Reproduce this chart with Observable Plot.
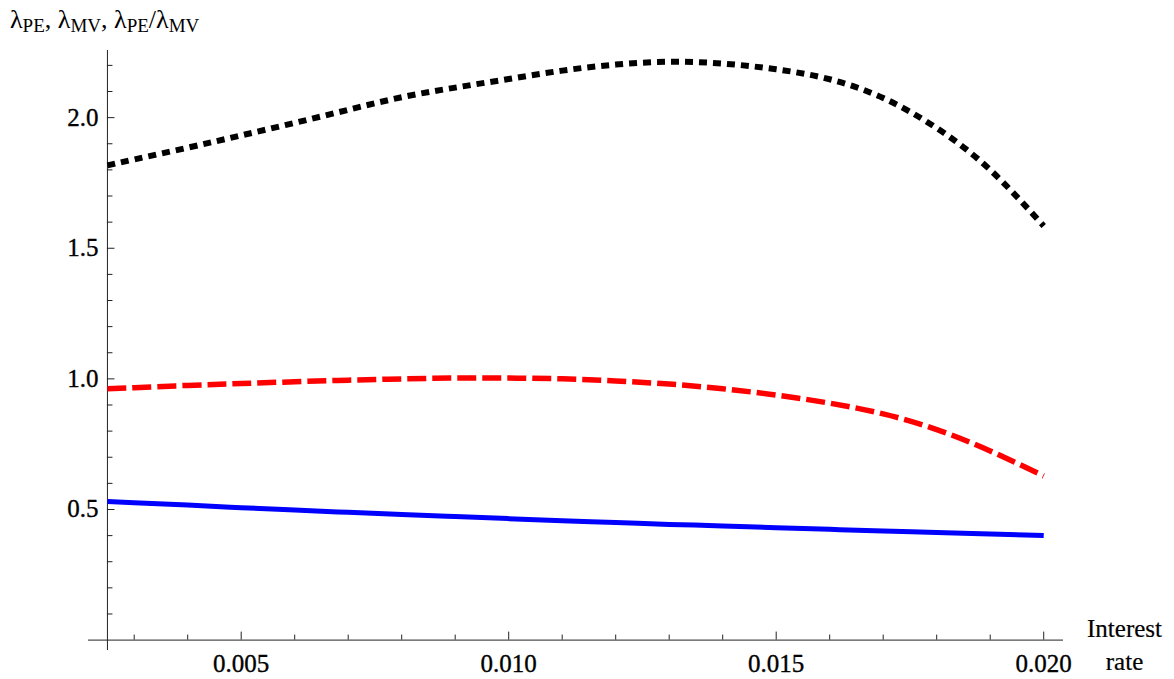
<!DOCTYPE html>
<html>
<head>
<meta charset="utf-8">
<script src="https://cdn.jsdelivr.net/npm/d3@7"></script>
<script src="https://cdn.jsdelivr.net/npm/@observablehq/plot@0.6"></script>
<style>
  html, body { margin: 0; padding: 0; background: #fff; }
  #chart svg { display: block; }
</style>
</head>
<body>
<div id="chart"></div>
<script>
// Data
const rates = [0.0025, 0.003, 0.004, 0.005, 0.006, 0.007, 0.008, 0.009, 0.010, 0.011,
               0.012, 0.013, 0.014, 0.015, 0.016, 0.017, 0.018, 0.019, 0.020];
const lambdaPE = [0.962, 0.966, 0.975, 0.982, 0.989, 0.995, 1.000, 1.003, 1.003, 1.000,
                  0.992, 0.980, 0.962, 0.938, 0.907, 0.866, 0.806, 0.724, 0.628];
const lambdaMV = [0.531, 0.526, 0.517, 0.507, 0.498, 0.489, 0.481, 0.473, 0.465, 0.457,
                  0.450, 0.443, 0.437, 0.430, 0.424, 0.418, 0.412, 0.406, 0.400];
const ratio    = [1.817, 1.840, 1.885, 1.932, 1.980, 2.030, 2.078, 2.115, 2.148, 2.180,
                  2.203, 2.214, 2.207, 2.185, 2.147, 2.075, 1.960, 1.800, 1.585];

const xMajorTicks = [0.005, 0.010, 0.015, 0.020];
const xMinorTicks = [0.003, 0.004, 0.006, 0.007, 0.008, 0.009, 0.011, 0.012, 0.013, 0.014,
                     0.016, 0.017, 0.018, 0.019];
const yMajorTicks = [0.5, 1.0, 1.5, 2.0];
const yMinorTicks = [0.1, 0.2, 0.3, 0.4, 0.6, 0.7, 0.8, 0.9, 1.1, 1.2, 1.3, 1.4,
                     1.6, 1.7, 1.8, 1.9, 2.1, 2.2];
const xTickLabels = ["0.005", "0.010", "0.015", "0.020"];
const yTickLabels = ["0.5", "1.0", "1.5", "2.0"];
const xAxisLabel = ["Interest", "rate"];

const xOrigin = 0.0025;
const xDomain = [0.002146, 0.02037];
const yDomain = [-0.0398, 2.257];

const series = [
  {name: "MV", values: lambdaMV, color: "#0000ff", dash: null, width: 5},
  {name: "PE", values: lambdaPE, color: "#ff0000", dash: "19,6", width: 5.5},
  {name: "ratio", values: ratio, color: "#000000", dash: "8,6", width: 6}
];

const font = "'Liberation Serif', 'DejaVu Serif', serif";
const axisColor = "#222";

// px-to-data conversions for tick lengths (derived from chart geometry)
const W = 1174, H = 679, mL = 88, mR = 111, mT = 50, mB = 29;
const xPerPx = (xDomain[1] - xDomain[0]) / (W - mL - mR);
const yPerPx = (yDomain[1] - yDomain[0]) / (H - mT - mB);

const lineMarks = series.map(s => Plot.line(
  rates.map((r, i) => ({rate: r, value: s.values[i]})),
  {x: "rate", y: "value", stroke: s.color, strokeWidth: s.width,
   strokeDasharray: s.dash, strokeLinecap: "butt", curve: "natural"}
));

const labelStyle = {fontSize: 25, fill: "#000", stroke: "#000", strokeWidth: 0.35};

const chart = Plot.plot({
  width: W, height: H,
  marginLeft: mL, marginRight: mR, marginTop: mT, marginBottom: mB,
  style: {fontFamily: font, background: "#fff", overflow: "visible"},
  x: {domain: xDomain, axis: null},
  y: {domain: yDomain, axis: null},
  marks: [
    // axes lines
    Plot.ruleY([0], {x1: xDomain[0], x2: xDomain[1], stroke: axisColor, strokeWidth: 1}),
    Plot.ruleX([xOrigin], {y1: yDomain[0], y2: yDomain[1], stroke: axisColor, strokeWidth: 1}),
    // x ticks (pointing up)
    Plot.ruleX(xMajorTicks, {x: d => d, y1: 0, y2: 8 * yPerPx, stroke: axisColor, strokeWidth: 1}),
    Plot.ruleX(xMinorTicks, {x: d => d, y1: 0, y2: 5 * yPerPx, stroke: axisColor, strokeWidth: 1}),
    // y ticks (pointing right)
    Plot.ruleY(yMajorTicks, {y: d => d, x1: xOrigin, x2: xOrigin + 7.5 * xPerPx, stroke: axisColor, strokeWidth: 1}),
    Plot.ruleY(yMinorTicks, {y: d => d, x1: xOrigin, x2: xOrigin + 5.5 * xPerPx, stroke: axisColor, strokeWidth: 1}),
    // tick labels
    Plot.text(xMajorTicks, {x: d => d, y: 0, text: (d, i) => xTickLabels[i], dy: 24,
      textAnchor: "middle", ...labelStyle}),
    Plot.text(yMajorTicks, {x: xOrigin, y: d => d, text: (d, i) => yTickLabels[i], dx: -9,
      textAnchor: "end", ...labelStyle}),
    // x axis label (two lines, right of the axis end)
    Plot.text([xAxisLabel.join("\n")], {x: xDomain[1], y: 0, text: d => d, dx: 61, dy: 3,
      lineAnchor: "middle", lineHeight: 1.33, textAnchor: "middle", ...labelStyle, strokeWidth: 0.2}),
    ...lineMarks
  ]
});

document.getElementById("chart").appendChild(chart);

// Top-left label with subscripts
const svg = d3.select(chart);
const title = svg.append("text")
  .attr("x", 10).attr("y", 28)
  .attr("text-anchor", "start")
  .attr("font-family", font).attr("font-size", 26).attr("fill", "#000");
const parts = [["λ", "PE"], [", λ", "MV"], [", λ", "PE"], ["/λ", "MV"]];
parts.forEach(([main, sub], i) => {
  title.append("tspan").attr("dy", i === 0 ? 0 : -4).text(main);
  title.append("tspan").attr("font-size", 19).attr("dy", 4).text(sub);
});
</script>
</body>
</html>
